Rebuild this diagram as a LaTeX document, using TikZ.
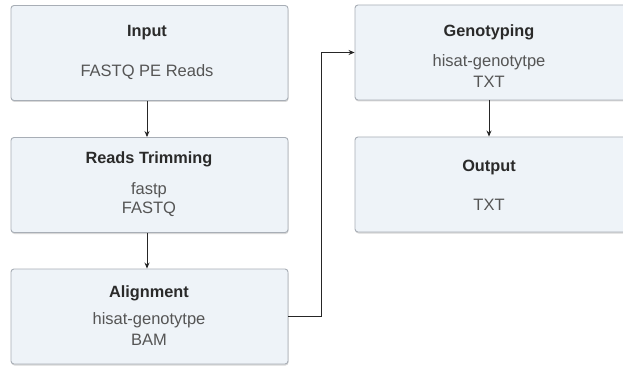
\documentclass[tikz,border=0pt]{standalone}
\usepackage{fontspec}
\setmainfont{Liberation Sans}
\usetikzlibrary{arrows.meta,shadows}
\definecolor{boxfill}{HTML}{EEF3F8}
\definecolor{boxline}{HTML}{A8AEB6}
\definecolor{titlecol}{HTML}{2A2A2A}
\definecolor{subcol}{HTML}{555555}
\tikzset{
  stagebox/.style={draw=boxline, line width=0.9pt, fill=boxfill, rounded corners=3pt,
    minimum height=95pt, inner sep=0pt,
    drop shadow={shadow xshift=0.5pt, shadow yshift=-1.5pt, opacity=0.25, fill=black!60}},
  ttl/.style={text=titlecol, font=\fontsize{16.3}{18}\selectfont\bfseries, inner sep=0pt, anchor=center},
  sub/.style={text=subcol, font=\fontsize{16.5}{18}\selectfont, inner sep=0pt, anchor=center},
  flow/.style={draw=black!85, line width=0.9pt, -{Stealth[length=6pt,width=5pt]}}
}
\begin{document}
\begin{tikzpicture}[x=1pt,y=-1pt]
\useasboundingbox (0,0) rectangle (623,366);
\clip (0,0) rectangle (623,366);
\fill[white] (0,0) rectangle (623,366);
% boxes
\node[stagebox, minimum width=277pt] (inp) at (149.5,53) {};
\node[stagebox, minimum width=277pt] (trim) at (149.5,185) {};
\node[stagebox, minimum width=277pt] (align) at (149.5,316.5) {};
\node[stagebox, minimum width=272pt] (geno) at (491,52.5) {};
\node[stagebox, minimum width=272pt] (outp) at (491,184.5) {};
% texts
\node[ttl] (inpT) at (147,33) {Input};
\node[sub] (inpS) at (147,72) {FASTQ PE Reads};
\node[ttl] (trimT) at (149,159) {Reads Trimming};
\node[sub] (trimS1) at (149,190) {fastp};
\node[sub] (trimS2) at (149,209) {FASTQ};
\node[ttl] (alignT) at (149,293) {Alignment};
\node[sub] (alignS1) at (149,320) {hisat-genotytpe};
\node[sub] (alignS2) at (149,340) {BAM};
\node[ttl] (genoT) at (489,32) {Genotyping};
\node[sub] (genoS1) at (489,62) {hisat-genotytpe};
\node[sub] (genoS2) at (489,82) {TXT};
\node[ttl] (outpT) at (489,168) {Output};
\node[sub] (outpS) at (489,205) {TXT};
% connectors
\coordinate (bend) at (321,316);
\draw[flow] (inp.south -| 147,0) -- (trim.north -| 147,0);
\draw[flow] (trim.south -| 147,0) -- (align.north -| 147,0);
\draw[flow] (align.east) -- (align.east -| bend) |- (geno.west);
\draw[flow] (geno.south -| 489,0) -- (outp.north -| 489,0);
\end{tikzpicture}
\end{document}
